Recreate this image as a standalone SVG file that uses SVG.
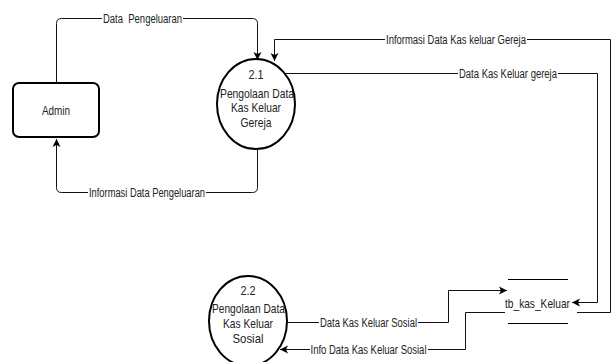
<svg xmlns="http://www.w3.org/2000/svg" width="611" height="362" viewBox="0 0 611 362">
<style>
  .node { fill: #fff; stroke: #000; stroke-width: 2; }
  .edge { fill: none; stroke: #111; stroke-width: 1; }
  .store { stroke: #000; stroke-width: 1; fill: none; }
  .nt { font-family: "Liberation Sans", Arial, sans-serif; font-size: 13px; fill: #222; text-anchor: middle; }
  .lt { font-family: "Liberation Sans", Arial, sans-serif; font-size: 12px; fill: #222; text-anchor: middle; white-space: pre; }
  .lbg { fill: #fff; }
</style>
<defs>
  <marker id="arr" markerWidth="9" markerHeight="9" refX="8" refY="4.5" orient="auto" markerUnits="userSpaceOnUse">
    <path d="M0,0.5 L8,4.5 L0,8.5 L2,4.5 z" fill="#000"/>
  </marker>
</defs>
<rect width="611" height="362" fill="#fff"/>

<g id="connectors">
  <path class="edge" d="M56.5,83 V23.5 Q56.5,18.5 61.5,18.5 H252.5 Q257.5,18.5 257.5,23.5 V60" marker-end="url(#arr)"/>
  <path class="edge" d="M257.5,149 V187.5 Q257.5,192.5 252.5,192.5 H61.5 Q56.5,192.5 56.5,187.5 V139" marker-end="url(#arr)"/>
  <path class="edge" d="M577,312.5 H610.5 V39.5 H274.5 V61" marker-end="url(#arr)"/>
  <path class="edge" d="M285,73.5 H597.5 V302.5 H572" marker-end="url(#arr)"/>
  <path class="edge" d="M287,322.5 H448.5 V290.5 H507" marker-end="url(#arr)"/>
  <path class="edge" d="M505,312.5 H465.5 V349.5 H280" marker-end="url(#arr)"/>

  <rect class="lbg" x="102" y="12" width="81" height="13"/>
  <text class="lt" x="142.5" y="22.5" textLength="79" lengthAdjust="spacingAndGlyphs" xml:space="preserve">Data  Pengeluaran</text>
  <rect class="lbg" x="88" y="186" width="118" height="13"/>
  <text class="lt" x="147" y="196.5" textLength="116" lengthAdjust="spacingAndGlyphs">Informasi Data Pengeluaran</text>
  <rect class="lbg" x="385" y="33" width="142" height="13"/>
  <text class="lt" x="456" y="43.5" textLength="140" lengthAdjust="spacingAndGlyphs">Informasi Data Kas keluar Gereja</text>
  <rect class="lbg" x="458" y="67" width="100" height="13"/>
  <text class="lt" x="508" y="77.5" textLength="98" lengthAdjust="spacingAndGlyphs">Data Kas Keluar gereja</text>
  <rect class="lbg" x="319" y="316" width="99" height="13"/>
  <text class="lt" x="368.5" y="326.5" textLength="97" lengthAdjust="spacingAndGlyphs">Data Kas Keluar Sosial</text>
  <rect class="lbg" x="310" y="343" width="118" height="13"/>
  <text class="lt" x="368.5" y="353.5" textLength="116" lengthAdjust="spacingAndGlyphs">Info Data Kas Keluar Sosial</text>
</g>

<g id="admin">
  <rect class="node" x="13" y="83" width="86" height="54" rx="6" ry="6"/>
  <text class="nt" x="56" y="114.5" textLength="28" lengthAdjust="spacingAndGlyphs">Admin</text>
</g>

<g id="p21">
  <ellipse class="node" cx="256" cy="104" rx="39" ry="45"/>
  <text class="nt" x="256" y="78.5" textLength="15" lengthAdjust="spacingAndGlyphs">2.1</text>
  <text class="nt" x="257" y="97.5" textLength="74" lengthAdjust="spacingAndGlyphs">Pengolaan Data</text>
  <text class="nt" x="256" y="112" textLength="50" lengthAdjust="spacingAndGlyphs">Kas Keluar</text>
  <text class="nt" x="256" y="126.5" textLength="31" lengthAdjust="spacingAndGlyphs">Gereja</text>
</g>

<g id="p22">
  <ellipse class="node" cx="248" cy="321" rx="39" ry="45"/>
  <text class="nt" x="248" y="294.5" textLength="15" lengthAdjust="spacingAndGlyphs">2.2</text>
  <text class="nt" x="248.5" y="312.5" textLength="73" lengthAdjust="spacingAndGlyphs">Pengolaan Data</text>
  <text class="nt" x="248" y="328" textLength="50" lengthAdjust="spacingAndGlyphs">Kas Keluar</text>
  <text class="nt" x="248" y="343" textLength="31" lengthAdjust="spacingAndGlyphs">Sosial</text>
</g>

<g id="tb_kas_keluar">
  <rect x="508" y="280" width="60" height="43" fill="#fff"/>
  <line class="store" x1="508" y1="279.5" x2="568" y2="279.5"/>
  <line class="store" x1="508" y1="323.5" x2="568" y2="323.5"/>
  <text class="nt" x="537.5" y="307.5" textLength="65" lengthAdjust="spacingAndGlyphs">tb_kas_Keluar</text>
</g>
</svg>
